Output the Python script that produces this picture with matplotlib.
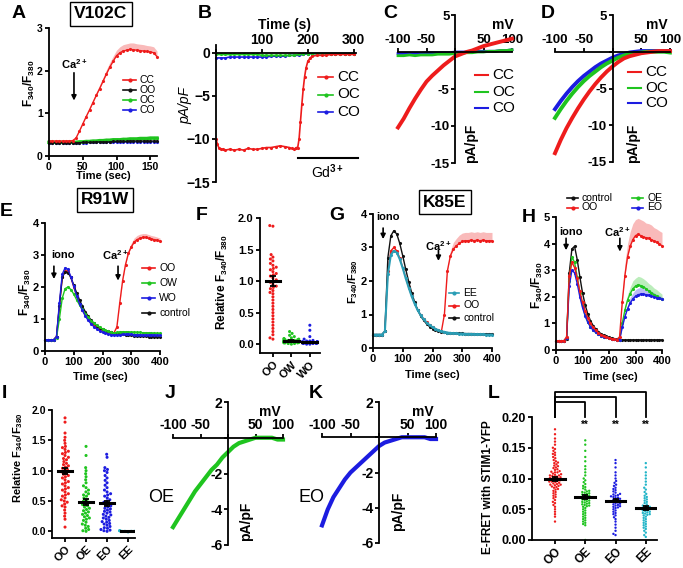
import warnings
import matplotlib
matplotlib.use('Agg')
import matplotlib.pyplot as plt
from matplotlib.lines import Line2D
import pandas as pd
import seaborn as sns

warnings.filterwarnings('ignore')
plt.rcParams['font.family'] = ['Liberation Sans', 'DejaVu Sans']
plt.rcParams['font.weight'] = 'bold'
plt.rcParams['mathtext.fontset'] = 'custom'
plt.rcParams['mathtext.rm'] = 'Liberation Sans:bold'
plt.rcParams['mathtext.bf'] = 'Liberation Sans:bold'
plt.rcParams['mathtext.it'] = 'Liberation Sans:italic:bold'
plt.rcParams['mathtext.default'] = 'rm'

RED = '#ee1c1c'
GREEN = '#1fc41f'
BLUE = '#1c1ce0'
BLACK = '#111111'
TEAL = '#2a9db5'
CYAN = '#22b5c8'

# ---------------- data ----------------
# A: V102C Ca2+ add-back
t_A = [0, 5, 10, 15, 20, 25, 30, 35, 40, 45, 50, 55, 60, 65, 70, 75, 80, 85, 90, 95,
       100, 105, 110, 115, 120, 125, 130, 135, 140, 145, 150, 155, 160]
A_CC = [0.35, 0.35, 0.35, 0.35, 0.35, 0.35, 0.35, 0.36, 0.42, 0.58, 0.75, 0.92, 1.08, 1.25,
        1.42, 1.58, 1.75, 1.92, 2.08, 2.22, 2.35, 2.42, 2.46, 2.48, 2.50, 2.49, 2.48, 2.47,
        2.46, 2.45, 2.44, 2.42, 2.33]
A_CC_err = [0, 0, 0, 0, 0, 0, 0, 0, 0.01, 0.02, 0.03, 0.04, 0.05, 0.06, 0.07, 0.08, 0.09,
            0.10, 0.11, 0.12, 0.13, 0.14, 0.15, 0.15, 0.15, 0.16, 0.15, 0.15, 0.15, 0.14,
            0.14, 0.14, 0.13]
A_OO = [0.31, 0.31, 0.31, 0.31, 0.31, 0.31, 0.31, 0.31, 0.31, 0.31, 0.32, 0.32, 0.32, 0.32,
        0.33, 0.33, 0.33, 0.33, 0.33, 0.34, 0.34, 0.34, 0.34, 0.34, 0.35, 0.35, 0.35, 0.35,
        0.35, 0.35, 0.35, 0.35, 0.35]
A_OC = [0.32, 0.32, 0.32, 0.32, 0.32, 0.32, 0.32, 0.32, 0.32, 0.33, 0.33, 0.34, 0.34, 0.35,
        0.35, 0.36, 0.36, 0.37, 0.37, 0.38, 0.38, 0.38, 0.39, 0.39, 0.40, 0.40, 0.40, 0.41,
        0.41, 0.41, 0.42, 0.42, 0.42]
A_CO = [0.31, 0.31, 0.31, 0.31, 0.31, 0.31, 0.31, 0.31, 0.31, 0.31, 0.31, 0.31, 0.32, 0.32,
        0.32, 0.32, 0.32, 0.32, 0.32, 0.32, 0.32, 0.32, 0.32, 0.33, 0.33, 0.33, 0.33, 0.33,
        0.33, 0.33, 0.33, 0.33, 0.33]

# B: whole-cell current vs time
t_B_CC = [0, 3, 6, 10, 15, 20, 30, 40, 50, 60, 70, 80, 90, 100, 110, 120, 130, 140, 150, 160,
          165, 170, 175, 178, 181, 184, 187, 190, 193, 196, 200, 205, 210, 220, 230, 240, 250,
          260, 270, 280, 290, 300]
B_CC = [-10.0, -10.6, -11.0, -11.2, -11.2, -11.3, -11.2, -11.3, -11.2, -11.3, -11.1, -11.2,
        -11.2, -11.1, -11.0, -11.0, -10.9, -10.8, -10.9, -11.0, -11.1, -11.2, -11.0, -11.0,
        -10.0, -8.0, -6.0, -4.2, -2.8, -1.8, -1.0, -0.6, -0.4, -0.3, -0.3, -0.3, -0.2, -0.2,
        -0.2, -0.2, -0.2, -0.2]
t_B = [0, 10, 20, 30, 40, 50, 60, 70, 80, 90, 100, 110, 120, 130, 140, 150, 160, 170, 180,
       190, 200, 210, 220, 230, 240, 250, 260, 270, 280, 290, 300]
B_OC = [-0.2, -0.2, -0.2, -0.2, -0.2, -0.2, -0.2, -0.2, -0.2, -0.2, -0.3, -0.3, -0.3, -0.3,
        -0.3, -0.3, -0.3, -0.3, -0.2, -0.1, -0.1, -0.1, -0.1, -0.1, -0.1, -0.1, -0.1, -0.1,
        -0.1, -0.1, -0.1]
B_CO = [-0.6, -0.6, -0.6, -0.5, -0.5, -0.5, -0.5, -0.5, -0.5, -0.5, -0.5, -0.5, -0.4, -0.4,
        -0.4, -0.4, -0.3, -0.3, -0.3, -0.2, -0.1, -0.1, -0.1, -0.1, -0.1, -0.1, -0.1, -0.1,
        -0.1, -0.1, -0.1]

# C, D, J, K: I-V relations
mV = [-100, -90, -80, -70, -60, -50, -40, -30, -20, -10, 0, 10, 20, 30, 40, 50, 60, 70, 80, 90, 100]
C_CC = [-10.2, -9.0, -7.6, -6.3, -5.1, -4.0, -3.2, -2.5, -1.8, -1.2, -0.6, -0.3, 0.0, 0.2, 0.5,
        0.8, 1.0, 1.2, 1.4, 1.6, 1.8]
C_OC = [-0.5, -0.5, -0.4, -0.5, -0.4, -0.4, -0.4, -0.3, -0.3, -0.3, -0.2, -0.2, -0.1, -0.1,
        0.0, 0.0, 0.1, 0.1, 0.2, 0.2, 0.3]
C_CO = [-0.2, -0.2, -0.2, -0.2, -0.2, -0.1, -0.1, -0.1, -0.1, -0.1, 0.0, 0.0, 0.0, 0.1, 0.1,
        0.1, 0.1, 0.1, 0.2, 0.2, 0.3]
D_CC = [-13.8, -12.0, -10.4, -9.0, -7.7, -6.5, -5.4, -4.4, -3.5, -2.7, -2.0, -1.4, -0.9, -0.6,
        -0.4, -0.2, -0.1, 0.0, 0.1, 0.1, 0.1]
D_OC = [-9.0, -7.8, -6.7, -5.7, -4.8, -4.0, -3.3, -2.7, -2.1, -1.6, -1.2, -0.8, -0.5, -0.3,
        -0.2, -0.1, 0.0, 0.0, 0.0, 0.0, -0.1]
D_CO = [-7.8, -6.7, -5.7, -4.8, -4.0, -3.3, -2.7, -2.1, -1.6, -1.2, -0.8, -0.5, -0.3, -0.1,
        0.0, 0.1, 0.1, 0.1, 0.1, 0.1, 0.1]
J_OE = [-5.0, -4.5, -4.0, -3.5, -3.0, -2.6, -2.2, -1.8, -1.5, -1.1, -0.8, -0.5, -0.3, -0.2,
        -0.1, 0.0, 0.0, 0.0, 0.0, -0.1, -0.1]
K_EO = [-5.0, -4.1, -3.4, -2.9, -2.4, -2.0, -1.7, -1.4, -1.1, -0.8, -0.5, -0.3, -0.2, -0.1,
        0.0, 0.0, 0.0, 0.0, 0.0, -0.1, -0.1]

# E, G, H: ionomycin then Ca2+ add-back
t10 = [0, 10, 20, 30, 40, 50, 60, 70, 80, 90, 100, 110, 120, 130, 140, 150, 160, 170, 180, 190,
       200, 210, 220, 230, 240, 250, 260, 270, 280, 290, 300, 310, 320, 330, 340, 350, 360, 370,
       380, 390, 400]
t_ca = [240, 250, 260, 270, 280, 290, 300, 310, 320, 330, 340, 350, 360, 370, 380, 390, 400]

E_OO = [0.35, 0.35, 0.35, 0.35, 0.45, 1.4, 2.3, 2.5, 2.5, 2.3, 2.0, 1.72, 1.48, 1.28, 1.12,
        0.99, 0.89, 0.81, 0.74, 0.69, 0.65, 0.62, 0.6, 0.58, 0.57, 0.75, 1.5, 2.2, 2.7, 3.05,
        3.25, 3.4, 3.48, 3.52, 3.55, 3.55, 3.52, 3.5, 3.48, 3.46, 3.43]
E_OO_err = [0, 0.02, 0.05, 0.08, 0.1, 0.12, 0.12, 0.13, 0.13, 0.13, 0.12, 0.12, 0.12, 0.11,
            0.11, 0.1, 0.1]
E_OW = [0.35, 0.35, 0.35, 0.35, 0.42, 1.0, 1.65, 1.95, 2.0, 1.92, 1.78, 1.6, 1.44, 1.3, 1.17,
        1.05, 0.95, 0.87, 0.8, 0.74, 0.69, 0.65, 0.61, 0.58, 0.56, 0.58, 0.6, 0.6, 0.6, 0.6,
        0.59, 0.59, 0.58, 0.58, 0.57, 0.57, 0.57, 0.56, 0.56, 0.55, 0.55]
E_WO = [0.35, 0.35, 0.35, 0.35, 0.45, 1.5, 2.4, 2.6, 2.55, 2.32, 2.02, 1.73, 1.48, 1.27, 1.1,
        0.96, 0.85, 0.76, 0.69, 0.63, 0.59, 0.56, 0.53, 0.51, 0.5, 0.5, 0.51, 0.52, 0.52, 0.52,
        0.52, 0.51, 0.51, 0.51, 0.5, 0.5, 0.5, 0.5, 0.5, 0.49, 0.49]
E_ctrl = [0.35, 0.35, 0.35, 0.35, 0.45, 1.4, 2.3, 2.48, 2.45, 2.3, 2.06, 1.82, 1.6, 1.4, 1.23,
          1.09, 0.97, 0.87, 0.79, 0.73, 0.68, 0.64, 0.61, 0.58, 0.56, 0.54, 0.53, 0.52, 0.51,
          0.5, 0.49, 0.48, 0.48, 0.47, 0.46, 0.46, 0.45, 0.45, 0.44, 0.44, 0.43]

G_ctrl = [0.4, 0.4, 0.4, 0.4, 0.5, 2.7, 3.35, 3.5, 3.4, 3.12, 2.75, 2.35, 1.98, 1.65, 1.37,
          1.14, 0.96, 0.83, 0.72, 0.64, 0.58, 0.54, 0.51, 0.49, 0.47, 0.46, 0.45, 0.45, 0.44,
          0.44, 0.44, 0.43, 0.43, 0.43, 0.43, 0.42, 0.42, 0.42, 0.42, 0.42, 0.42]
G_EE = [0.4, 0.4, 0.4, 0.4, 0.5, 2.2, 2.78, 2.9, 2.85, 2.65, 2.38, 2.08, 1.8, 1.54, 1.32, 1.13,
        0.98, 0.86, 0.76, 0.68, 0.62, 0.57, 0.53, 0.5, 0.48, 0.46, 0.45, 0.44, 0.44, 0.43,
        0.43, 0.42, 0.42, 0.42, 0.41, 0.41, 0.41, 0.41, 0.4, 0.4, 0.4]
G_OO = [0.4, 0.4, 0.4, 0.4, 0.5, 2.3, 2.9, 3.0, 2.9, 2.68, 2.4, 2.1, 1.82, 1.56, 1.33, 1.14,
        0.99, 0.87, 0.77, 0.69, 0.62, 0.57, 0.53, 0.5, 1.0, 2.3, 2.75, 2.95, 3.05, 3.12, 3.18,
        3.2, 3.2, 3.22, 3.2, 3.22, 3.2, 3.22, 3.2, 3.2, 3.2]
G_OO_err = [0, 0.1, 0.15, 0.2, 0.22, 0.25, 0.25, 0.25, 0.25, 0.25, 0.25, 0.25, 0.25, 0.25,
            0.25, 0.25, 0.25]

H_ctrl = [0.35, 0.35, 0.35, 0.35, 0.4, 2.9, 3.8, 3.9, 3.4, 2.75, 2.15, 1.7, 1.35, 1.1, 0.92,
          0.79, 0.69, 0.61, 0.55, 0.51, 0.47, 0.45, 0.42, 0.4, 0.39, 0.38, 0.38, 0.38, 0.38,
          0.38, 0.38, 0.38, 0.38, 0.38, 0.38, 0.38, 0.38, 0.38, 0.38, 0.38, 0.38]
H_OO = [0.35, 0.35, 0.35, 0.35, 0.5, 2.8, 3.3, 3.1, 2.7, 2.2, 1.8, 1.47, 1.2, 1.0, 0.85, 0.74,
        0.65, 0.58, 0.53, 0.49, 0.46, 0.43, 0.41, 0.39, 0.5, 1.8, 2.8, 3.5, 3.9, 4.15, 4.3,
        4.35, 4.3, 4.25, 4.22, 4.2, 4.15, 4.1, 4.05, 3.98, 3.92]
H_OO_err = [0, 0.3, 0.45, 0.5, 0.55, 0.6, 0.6, 0.6, 0.6, 0.6, 0.55, 0.55, 0.55, 0.5, 0.5, 0.5, 0.5]
H_OE = [0.35, 0.35, 0.35, 0.35, 0.45, 2.6, 3.5, 3.3, 2.75, 2.15, 1.65, 1.3, 1.05, 0.88, 0.75,
        0.66, 0.59, 0.54, 0.5, 0.47, 0.44, 0.42, 0.4, 0.39, 0.38, 1.0, 1.5, 1.88, 2.12, 2.3,
        2.4, 2.45, 2.42, 2.38, 2.3, 2.22, 2.15, 2.08, 2.02, 1.96, 1.9]
H_OE_err = [0, 0.1, 0.15, 0.2, 0.25, 0.3, 0.3, 0.32, 0.32, 0.3, 0.3, 0.28, 0.28, 0.25, 0.25, 0.22, 0.2]
H_EO = [0.35, 0.35, 0.35, 0.35, 0.45, 2.4, 3.0, 2.9, 2.5, 2.0, 1.6, 1.28, 1.04, 0.87, 0.75,
        0.66, 0.59, 0.54, 0.5, 0.47, 0.44, 0.42, 0.4, 0.39, 0.38, 0.85, 1.25, 1.55, 1.77, 1.92,
        2.02, 2.08, 2.1, 2.1, 2.08, 2.06, 2.03, 2.0, 1.97, 1.94, 1.9]
H_EO_err = [0, 0.05, 0.1, 0.15, 0.2, 0.22, 0.25, 0.25, 0.25, 0.22, 0.2, 0.2, 0.18, 0.15, 0.12, 0.1, 0.1]

# F: relative F340/F380, R91W
F_groups = ['OO', 'OW', 'WO']
F_OO = [1.88, 1.87, 1.42, 1.38, 1.35, 1.32, 1.28, 1.25, 1.22, 1.20, 1.18, 1.15, 1.12, 1.10,
        1.08, 1.05, 1.02, 1.00, 0.98, 0.95, 0.92, 0.90, 0.88, 0.85, 0.82, 0.80, 0.75, 0.70,
        0.65, 0.60, 0.55, 0.50, 0.45, 0.40, 0.35, 0.30, 0.25, 0.20, 0.15, 0.10, 0.08]
F_OW = [0.20, 0.17, 0.14, 0.12, 0.10, 0.09, 0.08, 0.08, 0.07, 0.07, 0.06, 0.06, 0.06, 0.05,
        0.05, 0.05, 0.05, 0.04, 0.04, 0.04, 0.04, 0.03, 0.03, 0.03, 0.03, 0.02, 0.02, 0.02,
        0.01, 0.01, 0.0]
F_WO = [0.30, 0.22, 0.12, 0.08, 0.06, 0.05, 0.05, 0.04, 0.04, 0.04, 0.03, 0.03, 0.03, 0.03,
        0.03, 0.02, 0.02, 0.02, 0.02, 0.01, 0.01, 0.01, 0.0, 0.0]
F_mean = [1.0, 0.05, 0.03]
F_sem = [0.08, 0.01, 0.01]

# I: relative F340/F380, K85E
I_groups = ['OO', 'OE', 'EO', 'EE']
I_OO = [1.87, 1.80, 1.62, 1.55, 1.50, 1.45, 1.40, 1.38, 1.35, 1.32, 1.30, 1.28, 1.25, 1.22,
        1.20, 1.18, 1.15, 1.12, 1.10, 1.08, 1.06, 1.04, 1.02, 1.00, 0.98, 0.96, 0.94, 0.92,
        0.90, 0.88, 0.85, 0.82, 0.80, 0.78, 0.75, 0.72, 0.70, 0.68, 0.65, 0.62, 0.60, 0.58,
        0.55, 0.52, 0.50, 0.48, 0.45, 0.42, 0.40, 0.35, 0.30, 0.25, 0.20, 0.07]
I_OE = [1.40, 1.25, 1.05, 1.00, 0.95, 0.90, 0.85, 0.80, 0.75, 0.72, 0.68, 0.65, 0.62, 0.60,
        0.58, 0.55, 0.52, 0.50, 0.48, 0.46, 0.44, 0.42, 0.40, 0.38, 0.36, 0.34, 0.32, 0.30,
        0.28, 0.26, 0.24, 0.22, 0.20, 0.18, 0.15, 0.12, 0.10, 0.08, 0.05, 0.03, 0.01, 0.0]
I_EO = [1.27, 1.22, 1.05, 1.02, 1.00, 0.97, 0.92, 0.88, 0.84, 0.80, 0.76, 0.72, 0.68, 0.65,
        0.62, 0.60, 0.58, 0.55, 0.52, 0.50, 0.48, 0.46, 0.44, 0.42, 0.40, 0.38, 0.37, 0.35,
        0.33, 0.32, 0.30, 0.28, 0.27, 0.25, 0.23, 0.22, 0.20, 0.18, 0.16, 0.15, 0.13, 0.12,
        0.10, 0.08, 0.06, 0.05, 0.03, 0.02, 0.01, 0.0]
I_EE = [0.01, 0.0, 0.0, 0.01, 0.0, -0.01, 0.0, 0.01]
I_mean = [1.0, 0.49, 0.46, 0.0]
I_sem = [0.05, 0.05, 0.04, 0.0]

# L: E-FRET with STIM1-YFP
L_groups = ['OO', 'OE', 'EO', 'EE']
L_OO = [0.180, 0.172, 0.165, 0.160, 0.155, 0.150, 0.148, 0.145, 0.142, 0.140, 0.138, 0.135,
        0.133, 0.130, 0.128, 0.126, 0.125, 0.123, 0.121, 0.120, 0.118, 0.117, 0.115, 0.114,
        0.112, 0.111, 0.110, 0.110, 0.108, 0.107, 0.106, 0.105, 0.105, 0.104, 0.103, 0.102,
        0.102, 0.101, 0.100, 0.100, 0.099, 0.098, 0.098, 0.097, 0.097, 0.096, 0.095, 0.095,
        0.094, 0.093, 0.092, 0.091, 0.090, 0.090, 0.089, 0.088, 0.087, 0.086, 0.085, 0.083,
        0.082, 0.080, 0.078, 0.076, 0.074, 0.072, 0.070, 0.068, 0.065, 0.062, 0.060, 0.057,
        0.054, 0.050, 0.046, 0.042, 0.038, 0.030]
L_OE = [0.162, 0.155, 0.145, 0.135, 0.128, 0.120, 0.115, 0.110, 0.105, 0.100, 0.097, 0.094,
        0.091, 0.088, 0.086, 0.084, 0.082, 0.080, 0.079, 0.078, 0.077, 0.076, 0.075, 0.074,
        0.073, 0.072, 0.071, 0.070, 0.069, 0.068, 0.067, 0.066, 0.065, 0.064, 0.063, 0.062,
        0.061, 0.060, 0.059, 0.058, 0.057, 0.056, 0.055, 0.054, 0.052, 0.050, 0.048, 0.046,
        0.044, 0.042, 0.040, 0.038, 0.036, 0.034, 0.032, 0.030, 0.028, 0.026, 0.024, 0.0]
L_EO = [0.130, 0.125, 0.118, 0.110, 0.105, 0.100, 0.096, 0.093, 0.090, 0.088, 0.085, 0.083,
        0.081, 0.079, 0.077, 0.075, 0.074, 0.073, 0.072, 0.071, 0.070, 0.069, 0.068, 0.067,
        0.066, 0.065, 0.064, 0.063, 0.062, 0.061, 0.060, 0.059, 0.058, 0.057, 0.056, 0.055,
        0.054, 0.053, 0.052, 0.050, 0.048, 0.046, 0.044, 0.042, 0.040, 0.037, 0.034, 0.030,
        0.025, 0.020, 0.015, 0.010, 0.008]
L_EE = [0.125, 0.118, 0.110, 0.105, 0.100, 0.095, 0.090, 0.085, 0.082, 0.078, 0.075, 0.072,
        0.070, 0.068, 0.066, 0.064, 0.062, 0.060, 0.058, 0.056, 0.055, 0.054, 0.053, 0.052,
        0.051, 0.050, 0.049, 0.048, 0.047, 0.046, 0.045, 0.044, 0.043, 0.042, 0.041, 0.040,
        0.038, 0.036, 0.034, 0.032, 0.030, 0.028, 0.026, 0.024, 0.022, 0.020, 0.018, 0.015,
        0.012, 0.008, 0.005]
L_mean = [0.099, 0.070, 0.064, 0.052]
L_sem = [0.003, 0.003, 0.003, 0.003]
L_bracket = [0.224, 0.232, 0.241]

# ---------------- helpers ----------------
W, H = 683, 568
fig = plt.figure(figsize=(W / 100, H / 100), dpi=100)


def px_ax(l, t, r, b):
    ax = fig.add_axes([l / W, 1 - b / H, (r - l) / W, (b - t) / H])
    ax.patch.set_alpha(0)
    return ax


def ftext(x, y, s, **kw):
    return fig.text(x / W, 1 - y / H, s, **kw)


def fline(xs, ys, **kw):
    fig.add_artist(Line2D([x / W for x in xs], [1 - y / H for y in ys], **kw))


def legend_px(x, y, pitch, items, fs, seg=13, dot=True, lw=1.2):
    for i, (lab, col) in enumerate(items):
        yy = y + i * pitch
        kw = dict(marker='.', markevery=[1], ms=4) if dot else {}
        fline([x, x + seg / 2, x + seg], [yy, yy, yy], color=col, lw=lw, **kw)
        ftext(x + seg + 4, yy, lab, fontsize=fs, va='center', ha='left', fontweight='normal')


def tc_axes(ax, xlim, ylim, xt, yt, fs=8):
    ax.set_xlim(xlim)
    ax.set_ylim(ylim)
    ax.set_xticks(xt)
    ax.set_yticks(yt)
    for s in ['top', 'right']:
        ax.spines[s].set_visible(False)
    for s in ['left', 'bottom']:
        ax.spines[s].set_linewidth(1.3)
    ax.tick_params(width=1.3, length=3, labelsize=fs, pad=1.5)


def trace(ax, t, y, c, lw=1.0, ms=2.5, z=2):
    ax.plot(t, y, color=c, lw=lw, marker='.', ms=ms, zorder=z, clip_on=False)


def band(ax, t, y, err, c, alpha=0.3):
    ax.fill_between(t, y, [a + b for a, b in zip(y, err)], color=c, alpha=alpha, lw=0, zorder=1)


def arrow(ax, x, y0, y1):
    ax.annotate('', xy=(x, y1), xytext=(x, y0),
                arrowprops=dict(arrowstyle='-|>', color='k', lw=1.2, mutation_scale=7,
                                shrinkA=0, shrinkB=0))


def iv_axes(ax, ylim, yt, ytl, fs=9.5):
    ax.set_xlim(-100, 100)
    ax.set_ylim(ylim)
    ax.spines['right'].set_visible(False)
    ax.spines['bottom'].set_visible(False)
    ax.spines['left'].set_position(('data', 0))
    ax.spines['top'].set_position(('data', 0))
    for s in ['left', 'top']:
        ax.spines[s].set_linewidth(1.3)
    ax.xaxis.tick_top()
    ax.set_xticks([-100, -50, 0, 50, 100])
    ax.set_xticklabels(['-100', '-50', '', '50', '100'])
    ax.set_yticks(yt)
    ax.set_yticklabels(ytl)
    ax.tick_params(width=1.3, length=3, labelsize=fs, pad=1)


def dots(ax, groups, values, colors, means, sems, size, mw, fs, xfs):
    g, v = [], []
    for name, vals in zip(groups, values):
        g += [name] * len(vals)
        v += list(vals)
    df = pd.DataFrame({'g': g, 'v': v})
    sns.swarmplot(data=df, x='g', y='v', hue='g', order=groups, hue_order=groups,
                  palette=colors, size=size, ax=ax, legend=False, linewidth=0, zorder=2)
    for i, (m, s) in enumerate(zip(means, sems)):
        ax.plot([i - mw / 2, i + mw / 2], [m, m], color='k', lw=2.2, zorder=5)
        if s > 0:
            ax.errorbar(i, m, yerr=s, color='k', capsize=2.5, lw=1.3, capthick=1.3, zorder=5)
    ax.set_xlabel('')
    ax.set_ylabel('')
    for s in ['top', 'right']:
        ax.spines[s].set_visible(False)
    for s in ['left', 'bottom']:
        ax.spines[s].set_linewidth(1.3)
    ax.tick_params(width=1.3, length=3, labelsize=fs, pad=1.5)
    ax.set_xticks(range(len(groups)))
    ax.set_xticklabels(groups, rotation=45, ha='right', rotation_mode='anchor', fontsize=xfs)


F340 = 'F$_{340}$/F$_{380}$'

# ---------------- A ----------------
ax = px_ax(49, 28, 157, 156)
tc_axes(ax, (0, 160), (0, 3), [0, 50, 100, 150], [0, 1, 2, 3], fs=7.5)
band(ax, t_A, A_CC, A_CC_err, RED)
trace(ax, t_A, A_CO, BLUE)
trace(ax, t_A, A_OC, GREEN, lw=2.5)
trace(ax, t_A, A_OO, BLACK)
trace(ax, t_A, A_CC, RED)
arrow(ax, 37, 1.95, 1.3)
ax.text(37, 2.15, 'Ca$^{2+}$', ha='center', va='center', fontsize=8)
ftext(29, 83, F340, rotation=90, ha='center', va='center', fontsize=8.5)
ftext(103, 176, 'Time (sec)', ha='center', va='center', fontsize=8)
legend_px(123, 80, 10, [('CC', RED), ('OO', BLACK), ('OC', GREEN), ('CO', BLUE)], 7.5)
ftext(101, 14, 'V102C', ha='center', va='center', fontsize=12.5,
      bbox=dict(boxstyle='square,pad=0.25', fc='white', ec='black', lw=1))

# ---------------- B ----------------
ax = px_ax(216, 45, 356, 182)
ax.set_xlim(0, 305)
ax.set_ylim(-15, 0.9)
ax.spines['right'].set_visible(False)
ax.spines['bottom'].set_visible(False)
ax.spines['top'].set_position(('data', 0))
for s in ['left', 'top']:
    ax.spines[s].set_linewidth(1.3)
ax.xaxis.tick_top()
ax.set_xticks([0, 100, 200, 300])
ax.set_xticklabels(['', '100', '200', '300'])
ax.set_yticks([0, -5, -10, -15])
ax.tick_params(width=1.3, length=3, labelsize=10, pad=1)
trace(ax, t_B, B_CO, BLUE, lw=1.2)
trace(ax, t_B, B_OC, GREEN, lw=1.2)
trace(ax, t_B_CC, B_CC, RED, lw=1.2)
ax.plot([178, 310], [-12.2, -12.2], color='k', lw=1.5, clip_on=False)
ax.text(244, -13.8, 'Gd$^{3+}$', ha='center', va='center', fontsize=10, fontweight='normal')
ftext(285, 25, 'Time (s)', ha='center', va='center', fontsize=10)
ftext(185, 105, 'pA/pF', rotation=90, ha='center', va='center', fontsize=10, style='italic',
      fontweight='normal')
legend_px(318, 77, 17.5, [('CC', RED), ('OC', GREEN), ('CO', BLUE)], 11, seg=15)

# ---------------- C ----------------
ax = px_ax(398, 15, 512, 163)
iv_axes(ax, (-15, 5), [5, 0, -5, -10, -15], ['5', '', '-5', '-10', '-15'])
ax.plot(mV, C_CO, color=BLUE, lw=2, clip_on=False)
ax.plot(mV, C_OC, color=GREEN, lw=2, clip_on=False)
ax.plot(mV, C_CC, color=RED, lw=2.8, clip_on=False)
ftext(503, 25, 'mV', ha='center', va='center', fontsize=10)
ftext(471, 143, 'pA/pF', rotation=90, ha='center', va='center', fontsize=10)
legend_px(475, 75, 16.5, [('CC', RED), ('OC', GREEN), ('CO', BLUE)], 11, seg=13, dot=False, lw=1.5)

# ---------------- D ----------------
ax = px_ax(555, 15, 670, 162)
iv_axes(ax, (-15, 5), [5, 0, -5, -10, -15], ['5', '', '-5', '-10', '-15'])
ax.plot(mV, D_CO, color=BLUE, lw=2.8, clip_on=False)
ax.plot(mV, D_OC, color=GREEN, lw=2.8, clip_on=False)
ax.plot(mV, D_CC, color=RED, lw=2.8, clip_on=False)
ftext(657, 25, 'mV', ha='center', va='center', fontsize=10)
ftext(633, 143, 'pA/pF', rotation=90, ha='center', va='center', fontsize=10)
legend_px(628, 72, 15.5, [('CC', RED), ('OC', GREEN), ('CO', BLUE)], 11, seg=13, dot=False, lw=1.5)

# ---------------- E ----------------
ax = px_ax(45, 223, 160, 351)
tc_axes(ax, (0, 400), (0, 4), [0, 100, 200, 300, 400], [0, 1, 2, 3, 4])
band(ax, t_ca, E_OO[24:], E_OO_err, RED)
trace(ax, t10, E_OO, RED)
trace(ax, t10, E_ctrl, BLACK)
trace(ax, t10, E_OW, GREEN)
trace(ax, t10, E_WO, BLUE)
arrow(ax, 31, 2.65, 2.25)
ax.text(62, 3.0, 'iono', ha='center', va='center', fontsize=8)
arrow(ax, 254, 2.65, 2.2)
ax.text(243, 3.0, 'Ca$^{2+}$', ha='center', va='center', fontsize=8)
ftext(25, 292, F340, rotation=90, ha='center', va='center', fontsize=8.5)
ftext(100, 377, 'Time (sec)', ha='center', va='center', fontsize=8)
legend_px(142, 268, 15, [('OO', RED), ('OW', GREEN), ('WO', BLUE), ('control', BLACK)], 7.5)
ftext(105, 200, 'R91W', ha='center', va='center', fontsize=12.5,
      bbox=dict(boxstyle='square,pad=0.25', fc='white', ec='black', lw=1))

# ---------------- F ----------------
ax = px_ax(260, 218, 320, 353)
dots(ax, F_groups, [F_OO, F_OW, F_WO], [RED, GREEN, BLUE], F_mean, F_sem, 2.2, 0.8, 8, 8)
ax.set_xlim(-0.7, 2.55)
ax.set_ylim(-0.14, 2.0)
ax.set_yticks([0, 0.5, 1.0, 1.5, 2.0])
ax.set_yticklabels(['0.0', '0.5', '1.0', '1.5', '2.0'])
ftext(222, 282, 'Relative ' + F340, rotation=90, ha='center', va='center', fontsize=8.5)

# ---------------- G ----------------
ax = px_ax(373, 214, 492, 348)
tc_axes(ax, (0, 400), (0, 4), [0, 100, 200, 300, 400], [0, 1, 2, 3, 4])
band(ax, t_ca, G_OO[24:], G_OO_err, RED)
trace(ax, t10, G_OO, RED)
trace(ax, t10, G_ctrl, BLACK)
trace(ax, t10, G_EE, TEAL, lw=1.5)
arrow(ax, 34, 3.58, 3.25)
ax.text(50, 3.9, 'iono', ha='center', va='center', fontsize=8)
arrow(ax, 220, 2.92, 2.6)
ax.text(218, 3.05, 'Ca$^{2+}$', ha='center', va='center', fontsize=8)
ftext(353, 282, F340, rotation=90, ha='center', va='center', fontsize=8)
ftext(432, 375, 'Time (sec)', ha='center', va='center', fontsize=8)
legend_px(449, 293, 12.5, [('EE', TEAL), ('OO', RED), ('control', BLACK)], 7.5, seg=10)
ftext(445, 202, 'K85E', ha='center', va='center', fontsize=12.5,
      bbox=dict(boxstyle='square,pad=0.25', fc='white', ec='black', lw=1))

# ---------------- H ----------------
ax = px_ax(556, 217, 662, 350)
tc_axes(ax, (0, 400), (0, 5), [0, 100, 200, 300, 400], [0, 1, 2, 3, 4, 5])
band(ax, t_ca, H_OO[24:], H_OO_err, RED)
band(ax, t_ca, H_OE[24:], H_OE_err, GREEN)
band(ax, t_ca, H_EO[24:], H_EO_err, BLUE)
trace(ax, t10, H_ctrl, BLACK)
trace(ax, t10, H_OE, GREEN)
trace(ax, t10, H_EO, BLUE)
trace(ax, t10, H_OO, RED)
arrow(ax, 38, 4.2, 3.75)
ax.text(57, 4.43, 'iono', ha='center', va='center', fontsize=8)
arrow(ax, 241, 4.2, 3.7)
ax.text(230, 4.43, 'Ca$^{2+}$', ha='center', va='center', fontsize=8)
ftext(537, 285, F340, rotation=90, ha='center', va='center', fontsize=8.5)
ftext(610, 377, 'Time (sec)', ha='center', va='center', fontsize=8)
legend_px(567, 198, 9.5, [('control', BLACK), ('OO', RED)], 7.5, seg=11)
legend_px(632, 198, 9.5, [('OE', GREEN), ('EO', BLUE)], 7.5, seg=11)

# ---------------- I ----------------
ax = px_ax(52, 410, 135, 538)
dots(ax, I_groups, [I_OO, I_OE, I_EO, I_EE], [RED, GREEN, BLUE, CYAN], I_mean, I_sem,
     2.2, 0.7, 7.5, 8)
ax.set_xlim(-0.62, 3.33)
ax.set_ylim(-0.11, 2.0)
ax.set_yticks([0, 0.5, 1.0, 1.5, 2.0])
ax.set_yticklabels(['0.0', '0.5', '1.0', '1.5', '2.0'])
ftext(18, 458, 'Relative ' + F340, rotation=90, ha='center', va='center', fontsize=8)

# ---------------- J ----------------
ax = px_ax(173, 402, 283, 545)
iv_axes(ax, (-6, 2), [2, 0, -2, -4, -6], ['2', '', '-2', '-4', '-6'], fs=10)
ax.plot(mV, J_OE, color=GREEN, lw=3, clip_on=False)
ftext(270, 412, 'mV', ha='center', va='center', fontsize=10)
ftext(246, 521, 'pA/pF', rotation=90, ha='center', va='center', fontsize=10)
ftext(161, 497, 'OE', ha='center', va='center', fontsize=13, fontweight='normal')

# ---------------- K ----------------
ax = px_ax(322, 402, 436, 543)
iv_axes(ax, (-6, 2), [2, 0, -2, -4, -6], ['2', '', '-2', '-4', '-6'], fs=10)
ax.plot(mV, K_EO, color=BLUE, lw=3, clip_on=False)
ftext(423, 412, 'mV', ha='center', va='center', fontsize=10)
ftext(398, 511, 'pA/pF', rotation=90, ha='center', va='center', fontsize=10)
ftext(312, 497, 'EO', ha='center', va='center', fontsize=13, fontweight='normal')

# ---------------- L ----------------
ax = px_ax(532, 417, 657, 540)
dots(ax, L_groups, [L_OO, L_OE, L_EO, L_EE], [RED, GREEN, BLUE, CYAN], L_mean, L_sem,
     1.7, 0.65, 9, 8.5)
ax.tick_params(axis='x', pad=1)
ax.set_xlim(-0.76, 3.37)
ax.set_ylim(0, 0.2)
ax.set_yticks([0, 0.05, 0.10, 0.15, 0.20])
ax.set_yticklabels(['0.00', '0.05', '0.10', '0.15', '0.20'])
for i, yb in zip([1, 2, 3], L_bracket):
    ax.plot([0, 0, i, i], [0.2, yb, yb, 0.2], color='k', lw=1.3, clip_on=False)
    ax.text(i, 0.187, '**', ha='center', va='center', fontsize=7)
ftext(488, 487, 'E-FRET with STIM1-YFP', rotation=90, ha='center', va='center', fontsize=8.5)

# ---------------- panel letters ----------------
for lab, x, y in [('A', 19, 14), ('B', 205, 13), ('C', 390, 13), ('D', 548, 13),
                  ('E', 6, 212), ('F', 202, 215), ('G', 337, 216), ('H', 529, 217),
                  ('I', 4, 394), ('J', 170, 394), ('K', 316, 394), ('L', 494, 394)]:
    ftext(x, y, lab, ha='center', va='center', fontsize=14)

fig.savefig('out.png', dpi=100)
